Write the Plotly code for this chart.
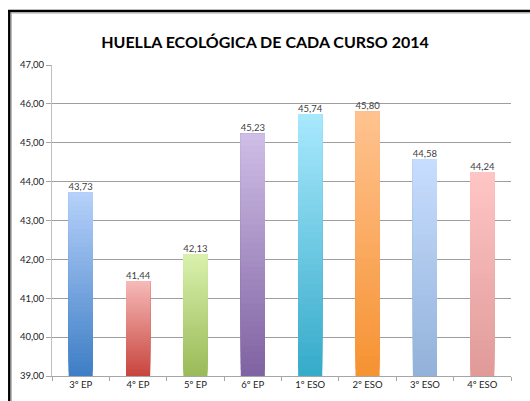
import plotly.graph_objects as go

# Ecological footprint per school year
cursos = ["3º EP", "4º EP", "5º EP", "6º EP", "1º ESO", "2º ESO", "3º ESO", "4º ESO"]
huella = [43.73, 41.44, 42.13, 45.23, 45.74, 45.80, 44.58, 44.24]

# gradient colours per bar: (top, bottom)
color_top = ["#B5D0FA", "#F5B9B7", "#D9F0AC", "#CEBDE6", "#A8E8FD", "#FFC28F", "#C7DDFF", "#FFC5C5"]
color_bottom = ["#3F7FC6", "#C9463F", "#9ABB58", "#8063A2", "#36ABCA", "#F69333", "#93B2D9", "#E09B99"]

Y_MIN, Y_MAX = 39, 47
N_STEPS = 40
BAR_W = 0.42


def hex_to_rgb(h):
    h = h.lstrip("#")
    return tuple(int(h[i:i + 2], 16) for i in (0, 2, 4))


def mix(c1, c2, t):
    a, b = hex_to_rgb(c1), hex_to_rgb(c2)
    return "rgb({},{},{})".format(*[round(a[i] + (b[i] - a[i]) * t) for i in range(3)])


fig = go.Figure()

# each bar is shaded with overlapping slices: slice k runs from its base up to the
# bar's value, so later (lighter) slices cover the upper part of earlier ones
for k in range(N_STEPS):
    t = k / (N_STEPS - 1)
    seg_base = [Y_MIN + k * (v - Y_MIN) / N_STEPS for v in huella]
    fig.add_trace(go.Bar(
        x=cursos, y=[v - b for v, b in zip(huella, seg_base)], base=seg_base, width=BAR_W,
        marker=dict(color=[mix(color_bottom[i], color_top[i], t) for i in range(len(cursos))],
                    line=dict(width=0)),
        hoverinfo="skip", showlegend=False,
    ))

# value labels above each bar
fig.add_trace(go.Scatter(
    x=cursos, y=huella, mode="text",
    text=[f"{v:.2f}".replace(".", ",") for v in huella],
    textposition="top center",
    textfont=dict(family="Lato, Carlito, sans-serif", size=9.5, color="#404040"),
    hoverinfo="skip", showlegend=False,
))

W, H = 530, 401
ML, MR, MT, MB = 52, 19, 65, 25
pw, ph = W - ML - MR, H - MT - MB


def px(x):
    return (x - ML) / pw


def py(y):
    return (H - MB - y) / ph


frame = [
    dict(type="line", xref="paper", yref="paper", x0=px(9.3), x1=px(9.3), y0=py(10), y1=py(H + 5),
         line=dict(color="#000000", width=2.5)),
    dict(type="line", xref="paper", yref="paper", x0=px(8), x1=px(W + 5), y0=py(11), y1=py(11),
         line=dict(color="#000000", width=2.5)),
    dict(type="line", xref="paper", yref="paper", x0=px(11.2), x1=px(11.2), y0=py(12.5), y1=py(H + 5),
         line=dict(color="#A8A8A8", width=1.2)),
    dict(type="line", xref="paper", yref="paper", x0=px(11.2), x1=px(W + 5), y0=py(12.8), y1=py(12.8),
         line=dict(color="#A8A8A8", width=1.2)),
]

fig.update_layout(
    width=W, height=H,
    margin=dict(l=ML, r=MR, t=MT, b=MB),
    paper_bgcolor="white", plot_bgcolor="white",
    separators=",.",
    barmode="overlay",
    shapes=frame,
    title=dict(text="<b>HUELLA ECOLÓGICA DE CADA CURSO 2014</b>",
               x=0.5, xanchor="center", y=1 - 42 / H, yanchor="middle", yref="container",
               font=dict(family="Lato, Carlito, sans-serif", size=16, color="#000000")),
    xaxis=dict(
        showline=True, linecolor="#A6A6A6", linewidth=1,
        ticks="outside", ticklen=4, tickcolor="#A6A6A6", tickson="boundaries",
        showgrid=False,
        tickfont=dict(family="Lato, Carlito, sans-serif", size=9.5, color="#222222"),
    ),
    yaxis=dict(
        range=[Y_MIN, Y_MAX], dtick=1, tickformat=".2f",
        showline=True, linecolor="#BFBFBF", linewidth=1,
        ticks="outside", ticklen=5, tickcolor="#A6A6A6",
        showgrid=True, gridcolor="#9E9E9E", gridwidth=1,
        zeroline=False,
        tickfont=dict(family="Lato, Carlito, sans-serif", size=9.5, color="#222222"),
    ),
)

fig.write_html("out.html")
